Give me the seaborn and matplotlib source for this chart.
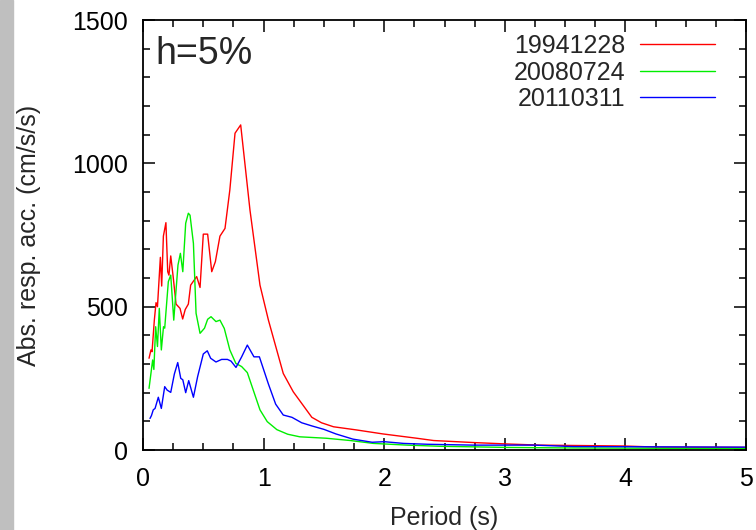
import pandas as pd
import matplotlib.pyplot as plt
import seaborn as sns
from matplotlib.patches import Rectangle
from matplotlib.ticker import MultipleLocator

sns.set_style("ticks")
plt.rcParams['font.family'] = ['Liberation Sans', 'DejaVu Sans']

# Response spectra (period in s, abs. resp. acc. in cm/s/s)
period_1994 = [0.05, 0.066, 0.075, 0.094, 0.108, 0.12, 0.144, 0.155, 0.169, 0.19, 0.205, 0.215,
               0.23, 0.25, 0.274, 0.307, 0.329, 0.35, 0.376, 0.395, 0.445, 0.473, 0.5, 0.536,
               0.57, 0.6, 0.638, 0.68, 0.72, 0.763, 0.81, 0.887, 0.97, 1.04, 1.163, 1.246,
               1.4, 1.48, 1.58, 1.77, 1.99, 2.27, 2.41, 2.74, 3.02, 3.29, 3.98, 4.27, 5.0]
acc_1994 = [320, 349, 343, 453, 514, 500, 672, 572, 746, 793, 622, 610,
            677, 605, 509, 494, 457, 490, 509, 575, 605, 567, 753, 753,
            622, 657, 746, 773, 907, 1105, 1134, 837, 575, 453, 267, 203,
            114, 95, 81, 70, 56, 41, 33, 26, 21, 17, 14, 10, 9]

period_2008 = [0.05, 0.08, 0.09, 0.105, 0.12, 0.135, 0.152, 0.17, 0.18, 0.21, 0.23, 0.255,
               0.29, 0.31, 0.33, 0.354, 0.376, 0.39, 0.418, 0.44, 0.473, 0.51, 0.536, 0.564,
               0.605, 0.638, 0.674, 0.72, 0.77, 0.818, 0.865, 0.97, 1.03, 1.11, 1.2, 1.3,
               1.52, 1.72, 1.91, 2.19, 2.46, 3.02, 3.57, 5.0]
acc_2008 = [215, 314, 281, 430, 361, 494, 349, 430, 425, 587, 610, 453,
            645, 686, 622, 791, 826, 819, 721, 477, 407, 425, 456, 465,
            448, 453, 424, 349, 302, 291, 270, 140, 99, 71, 55, 46,
            41, 33, 23, 17, 13, 9, 7, 5]

period_2011 = [0.058, 0.07, 0.085, 0.1, 0.127, 0.152, 0.18, 0.2, 0.23, 0.26, 0.288, 0.313,
               0.33, 0.354, 0.379, 0.418, 0.453, 0.5, 0.533, 0.561, 0.605, 0.652, 0.7, 0.73,
               0.771, 0.818, 0.865, 0.92, 0.965, 1.04, 1.1, 1.163, 1.235, 1.316, 1.4, 1.5,
               1.6, 1.74, 1.9, 2.0, 2.16, 2.36, 2.74, 3.24, 3.57, 5.0]
acc_2011 = [110, 120, 140, 145, 184, 145, 221, 209, 201, 265, 305, 250,
            245, 200, 242, 184, 256, 335, 346, 320, 307, 316, 316, 310,
            288, 325, 366, 325, 325, 230, 160, 122, 114, 95, 84, 72,
            56, 38, 27, 29, 23, 20, 17, 17, 12, 10]

events = ['19941228', '20080724', '20110311']
colors = ['#ff0000', '#00ee00', '#0000ff']

df = pd.concat([
    pd.DataFrame({'period': period_1994, 'acc': acc_1994, 'event': events[0]}),
    pd.DataFrame({'period': period_2008, 'acc': acc_2008, 'event': events[1]}),
    pd.DataFrame({'period': period_2011, 'acc': acc_2011, 'event': events[2]}),
])

fig = plt.figure(figsize=(7.56, 5.30), dpi=100)
ax = fig.add_axes([143 / 756, 80 / 530, 603 / 756, 430 / 530])

# grey strip on the left edge of the picture
fig.patches.append(Rectangle((0, 0), 13 / 756, 1, transform=fig.transFigure,
                             color='#bfbfbf', zorder=-1))

sns.lineplot(data=df, x='period', y='acc', hue='event', palette=colors,
             linewidth=1.0, sort=False, estimator=None, ax=ax)

ax.set_xlim(0, 5)
ax.set_ylim(0, 1500)
ax.xaxis.set_major_locator(MultipleLocator(1))
ax.xaxis.set_minor_locator(MultipleLocator(0.25))
ax.yaxis.set_major_locator(MultipleLocator(500))
ax.yaxis.set_minor_locator(MultipleLocator(100))
ax.tick_params(which='both', direction='in', top=True, right=True, width=1.1,
               labelsize=18, pad=11, colors='black')
ax.tick_params(axis='x', which='both', pad=12)
ax.tick_params(which='major', length=8.5)
ax.tick_params(which='minor', length=5)
for s in ax.spines.values():
    s.set_linewidth(1.3)
    s.set_color('black')

ax.set_xlabel('Period (s)', fontsize=18, labelpad=11)
ax.set_ylabel('Abs. resp. acc. (cm/s/s)', fontsize=18, labelpad=22)

ax.text(0.02, 0.921, 'h=5%', transform=ax.transAxes, fontsize=27,
        va='center', ha='left')

ax.legend(loc='upper right', bbox_to_anchor=(0.9486, 0.967), frameon=False,
          markerfirst=False, fontsize=18, handlelength=3.0, handletextpad=0.6,
          labelspacing=0.1, borderpad=0, borderaxespad=0)

fig.savefig('out.png', dpi=100)
